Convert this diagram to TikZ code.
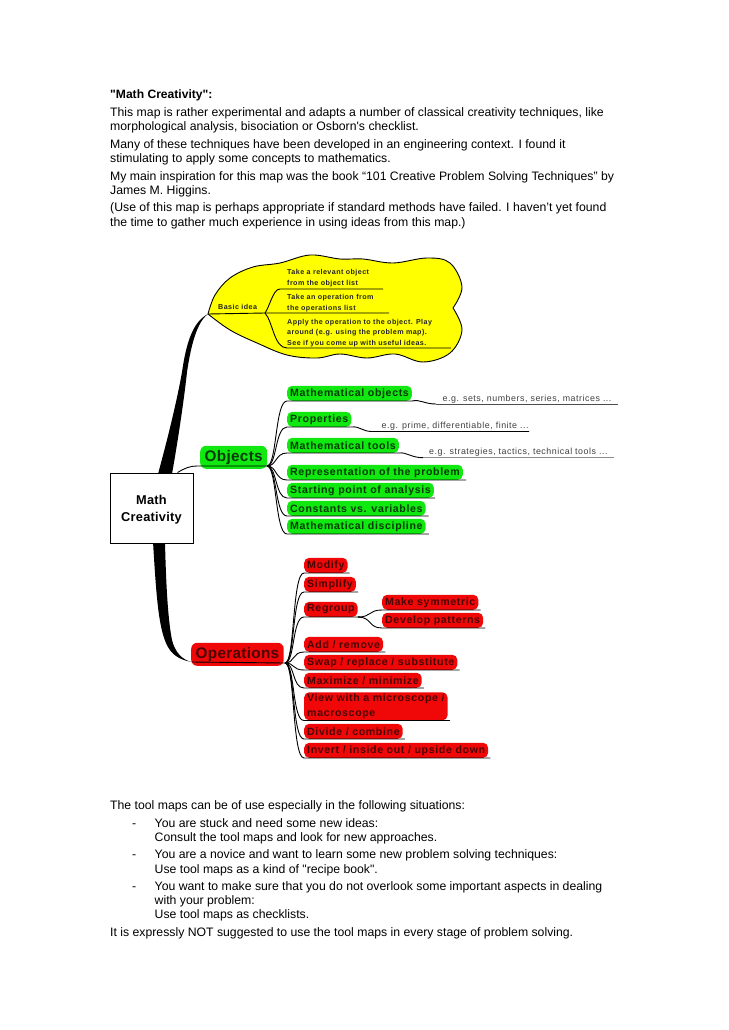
\documentclass[tikz,border=0pt]{standalone}
\usepackage{fontspec}
\setmainfont[Ligatures=TeXOff]{Liberation Sans}
\newfontfamily\mapfont[LetterSpace=6]{Liberation Sans}
\newfontfamily\bigmapfont[LetterSpace=2]{Liberation Sans}
\usepackage{tikz}
\definecolor{leafgreen}{HTML}{10E810}
\definecolor{leafred}{HTML}{F00808}
\definecolor{cloudyellow}{HTML}{FFFF00}
\definecolor{greenink}{HTML}{043A04}
\definecolor{redink}{HTML}{4A0404}
\tikzset{
	x=1pt,y=-1pt,
	para/.style={anchor=base west,inner sep=0pt,font=\fontsize{12.25}{14}\selectfont},
	pill/.style={anchor=south west,inner xsep=3pt,inner ysep=0pt,rounded corners=5pt,minimum height=15pt,font=\mapfont\bfseries\fontsize{10.6}{14}\selectfont},
	greenpill/.style={pill,fill=leafgreen,text=greenink},
	redpill/.style={pill,fill=leafred,text=redink},
	bigpill/.style={font=\bigmapfont\bfseries\fontsize{15.3}{18}\selectfont,rounded corners=6pt,minimum height=23pt,inner xsep=4.5pt},
	note/.style={anchor=base west,inner sep=0pt,text=black!75,font=\mapfont\fontsize{8.86}{10}\selectfont},
	idea/.style={anchor=base west,inner sep=0pt,font=\mapfont\bfseries\fontsize{7.15}{10}\selectfont,text=black!85},
	branch/.style={draw=black,line width=0.9pt},
	root/.style={draw=black,fill=white,line width=0.9pt,align=center,minimum width=83pt,minimum height=70pt,inner sep=0pt,font=\bigmapfont\bfseries\fontsize{12.8}{17.5}\selectfont}
}
\begin{document}
\begin{tikzpicture}
	\useasboundingbox (0,0) rectangle (728,1030);
	\fill[white] (0,0) rectangle (728,1030);

	% top text
	\node[para,font=\bfseries\fontsize{12.1}{14}\selectfont] (t1) at (110,99) {"Math Creativity":};
	\node[para] (t2) at (110,117) {This map is rather experimental and adapts a number of classical creativity techniques, like};
	\node[para] (t3) at (110,131) {morphological analysis, bisociation or Osborn's checklist.};
	\node[para] (t4) at (110,148) {Many of these techniques have been developed in an engineering context. I found it};
	\node[para] (t5) at (110,162) {stimulating to apply some concepts to mathematics.};
	\node[para] (t6) at (110,180) {My main inspiration for this map was the book “101 Creative Problem Solving Techniques” by};
	\node[para] (t7) at (110,194) {James M. Higgins.};
	\node[para] (t8) at (110,211) {(Use of this map is perhaps appropriate if standard methods have failed. I haven’t yet found};
	\node[para] (t9) at (110,226) {the time to gather much experience in using ideas from this map.)};

	% cloud
	\draw[fill=cloudyellow,line width=0.9pt,line join=round] plot[smooth,tension=0.6] coordinates {
		(208,314) (215,295) (230,278) (253,267) (280,263) (310,255) (340,259) (363,259) (393,263)
		(427,258) (450,263) (462,287) (453,308)}
		-- plot[smooth,tension=0.6] coordinates {
		(453,308) (462,330) (450,353) (423,362) (395,354) (367,358) (340,354) (317,358) (287,355)
		(257,343) (230,330) (208,314)} -- cycle;
	\coordinate (cloudtip) at (208,314);
	\coordinate (ideahub) at (265,313);
	\coordinate (ideaa) at (280,289);
	\coordinate (ideab) at (383,289);
	\coordinate (ideac) at (389,313);
	\coordinate (idead) at (287,348);
	\coordinate (ideae) at (451,348);
	\node[idea] (basic) at (218,309) {Basic idea};
	\node[idea] (i1) at (287,274) {Take a relevant object};
	\node[idea] (i2) at (287,285) {from the object list};
	\node[idea] (i3) at (287,299) {Take an operation from};
	\node[idea] (i4) at (287,310) {the operations list};
	\node[idea] (i5) at (287,324) {Apply the operation to the object. Play};
	\node[idea] (i6) at (287,334) {around (e.g. using the problem map).};
	\node[idea] (i7) at (287,345) {See if you come up with useful ideas.};
	\draw[branch] (cloudtip) -- (ideahub) -- (ideac);
	\draw[branch] (ideahub) .. controls (270,306) and (273,289) .. (ideaa) -- (ideab);
	\draw[branch] (ideahub) .. controls (273,322) and (274,348) .. (idead) -- (ideae);

	% root and thick arms
	\fill[black] (158,474) .. controls (170,430) and (178,395) .. (182,372) .. controls (186,345) and (192,322) .. (208,314)
		.. controls (197,322) and (191,345) .. (187,372) .. controls (184,400) and (178,440) .. (172,474) -- cycle;
	\fill[black] (153,542) .. controls (156,590) and (158,625) .. (166,643) .. controls (171,655) and (180,660) .. (192,662)
		.. controls (182,660) and (175,652) .. (172,640) .. controls (168,620) and (166,585) .. (165,542) -- cycle;
	\node[root] (math) at (151.5,508) {\rule{0pt}{13pt}Math\\Creativity};

	% objects
	\node[greenpill,bigpill] (objects) at (200,469) {Objects};
	\coordinate (objhub) at (267,466);
	\draw[branch] (math.north) ++(26,0) .. controls (185,468) and (190,466) .. (197,466) -- (objhub);
	\node[greenpill] (mathobj) at (287,401) {Mathematical objects};
	\node[greenpill] (props) at (287,427) {Properties};
	\node[greenpill] (mathtools) at (287,453) {Mathematical tools};
	\node[greenpill] (repr) at (287,480) {Representation of the problem};
	\node[greenpill] (start) at (287,498) {Starting point of analysis};
	\node[greenpill] (const) at (287,516) {Constants vs. variables};
	\node[greenpill] (disc) at (287,534) {Mathematical discipline};
	\foreach \leaf/\tail in {mathobj/0,props/0,mathtools/0,repr/3,start/1,const/3,disc/3} {
		\draw[branch] (objhub) .. controls (277,466) and (275,0|-\leaf.south west) .. (\leaf.south west) -- ([xshift=\tail pt]\leaf.south east);
	}
	\node[note] (mathobjnote) at (442.5,401) {e.g. sets, numbers, series, matrices ...};
	\node[note] (propsnote) at (381.5,428) {e.g. prime, differentiable, finite ...};
	\node[note] (toolsnote) at (429,454.5) {e.g. strategies, tactics, technical tools ...};
	\coordinate (mathobjend) at (618,404);
	\coordinate (propsend) at (529,431.5);
	\coordinate (toolsend) at (613.5,457.7);
	\draw[branch] (mathobj.south east) .. controls (420,399) and (424,404) .. (436,404);
	\draw[draw=black!70,line width=0.9pt] (436,404) -- (mathobjend);
	\draw[branch] (props.south east) .. controls (360,426) and (362,431.5) .. (372,431.5) -- (propsend);
	\draw[branch] (mathtools.south east) .. controls (407,452) and (411,457.7) .. (423,457.7);
	\draw[draw=black!45,line width=1.1pt] (423,457.7) -- (toolsend);

	% operations
	\node[redpill,bigpill] (operations) at (191,666) {Operations};
	\coordinate (ophub) at (285,663);
	\draw[branch] (192,662) -- (ophub);
	\node[redpill] (modify) at (304,573) {Modify};
	\node[redpill] (simplify) at (304,592) {Simplify};
	\node[redpill] (regroup) at (304,617) {Regroup};
	\node[redpill] (addrem) at (304,652) {Add / remove};
	\node[redpill] (swap) at (304,670) {Swap / replace / substitute};
	\node[redpill] (maxmin) at (304,688) {Maximize / minimize};
	\node[redpill,align=left,minimum height=28pt,font=\mapfont\bfseries\fontsize{10.6}{15}\selectfont] (view) at (304,720.5) {View with a microscope /\\macroscope};
	\node[redpill] (divide) at (304,739) {Divide / combine};
	\node[redpill] (invert) at (304,758) {Invert / inside out / upside down};
	\node[redpill] (symm) at (382,610) {Make symmetric};
	\node[redpill] (devel) at (382,628) {Develop patterns};
	\foreach \leaf in {modify,simplify,regroup,addrem,swap,maxmin,view,divide,invert} {
		\draw[branch] (ophub) .. controls (295,663) and (292,0|-\leaf.south west) .. (\leaf.south west) -- ([xshift=2pt]\leaf.south east);
	}
	\foreach \leaf in {symm,devel} {
		\draw[branch] (regroup.south east) .. controls (372,617) and (368,0|-\leaf.south west) .. (\leaf.south west) -- ([xshift=2pt]\leaf.south east);
	}

	% bottom text
	\node[para] (b1) at (110,809) {The tool maps can be of use especially in the following situations:};
	\node[para] (b2) at (132,827) {-};
	\node[para] (b3) at (154.5,827) {You are stuck and need some new ideas:};
	\node[para] (b4) at (154.5,841) {Consult the tool maps and look for new approaches.};
	\node[para] (b5) at (132,858) {-};
	\node[para] (b6) at (154.5,858) {You are a novice and want to learn some new problem solving techniques:};
	\node[para] (b7) at (154.5,873) {Use tool maps as a kind of "recipe book".};
	\node[para] (b8) at (132,890) {-};
	\node[para] (b9) at (154.5,890) {You want to make sure that you do not overlook some important aspects in dealing};
	\node[para] (b10) at (154.5,904) {with your problem:};
	\node[para] (b11) at (154.5,918) {Use tool maps as checklists.};
	\node[para] (b12) at (110,936) {It is expressly NOT suggested to use the tool maps in every stage of problem solving.};
\end{tikzpicture}
\end{document}
